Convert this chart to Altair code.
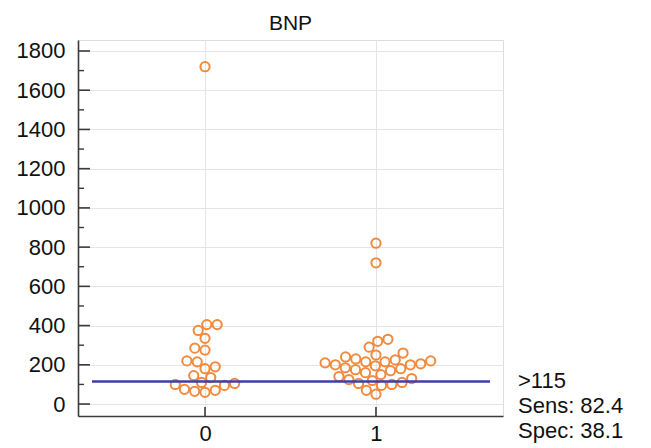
import altair as alt
import pandas as pd
import numpy as np

# ---- data ----
groups = [0, 1]
bnp_group0 = [1720, 405, 405, 375, 335, 285, 275, 220, 215, 190, 180, 145, 135,
              110, 105, 100, 95, 75, 70, 65, 60]
bnp_group1 = [820, 720, 330, 320, 290, 260, 250, 240, 230, 225, 220, 215, 215,
              210, 205, 200, 200, 195, 185, 180, 175, 170, 160, 150, 140, 130,
              125, 120, 110, 105, 100, 95, 70, 50]
y_major = list(range(0, 1801, 200))
y_minor = list(range(100, 1701, 200))
cutoff = [115]
annotation = [">115", "Sens: 82.4", "Spec: 38.1"]

# ---- layout ----
W, H = 425, 376
XDOM = [-0.743, 1.743]
YDOM = [-61, 1856]
px_x = W / (XDOM[1] - XDOM[0])
px_y = H / (YDOM[1] - YDOM[0])
D = 10.4  # min centre distance in px for the swarm
FONT = "Liberation Sans"
FS = 22
ORANGE = "#F08A3E"
BLUE = "#3F3FA3"
AXIS = "#3a3a3a"
GRID = "#e4e4e4"


def swarm(vals):
    order = np.argsort(vals)
    placed = []
    offs = [0.0] * len(vals)
    for i in order:
        y = vals[i] * px_y
        cands = [0.0]
        for xj, yj in placed:
            dy = abs(y - yj)
            if dy < D:
                dx = float(np.sqrt(D * D - dy * dy))
                cands += [xj + dx, xj - dx]
        cands.sort(key=lambda c: (abs(c), c))
        chosen = 0.0
        for c in cands:
            if all((c - xj) ** 2 + (y - yj) ** 2 >= D * D - 1e-6 for xj, yj in placed):
                chosen = c
                break
        placed.append((chosen, y))
        offs[i] = chosen
    return offs


rows = []
for g, vals in zip(groups, [bnp_group0, bnp_group1]):
    for v, o in zip(vals, swarm(vals)):
        rows.append({"group": g, "x": g + o / px_x, "BNP": v})
pts = pd.DataFrame(rows)

xscale = alt.Scale(domain=XDOM, nice=False, zero=False)
yscale = alt.Scale(domain=YDOM, nice=False, zero=False)

xaxis = alt.Axis(values=groups, format="d", grid=True, gridColor=GRID, title=None,
                 ticks=False, tickSize=0, labelPadding=17,
                 labelBaseline="middle", labelFont=FONT, labelFontSize=FS,
                 labelColor="#111", domainColor=AXIS, domainWidth=1.6,
                 labelFlush=False)
yaxis = alt.Axis(values=y_major, format="d", grid=True, gridColor=GRID, ticks=False,
                 title=None, tickSize=0, labelPadding=13, labelBaseline="middle",
                 labelFont=FONT, labelFontSize=FS, labelColor="#111",
                 domainColor=AXIS, domainWidth=1.6, labelFlush=False)

points = alt.Chart(pts).mark_point(
    shape="circle", filled=False, color=ORANGE, strokeWidth=2, size=85, opacity=1
).encode(
    x=alt.X("x:Q", scale=xscale, title=None, axis=xaxis),
    y=alt.Y("BNP:Q", scale=yscale, title=None, axis=yaxis),
)

major = alt.Chart(pd.DataFrame({"v": y_major})).mark_rule(
    color=AXIS, strokeWidth=1.6
).encode(y=alt.Y("v:Q", scale=yscale, title=None, axis=yaxis),
         x=alt.value(0), x2=alt.value(12))

minor = alt.Chart(pd.DataFrame({"v": y_minor})).mark_rule(
    color=AXIS, strokeWidth=1.4
).encode(y=alt.Y("v:Q", scale=yscale, title=None, axis=yaxis),
         x=alt.value(0), x2=alt.value(6))

xt = alt.Chart(pd.DataFrame({"g": groups})).mark_rule(
    color=AXIS, strokeWidth=1.6
).encode(x=alt.X("g:Q", scale=xscale, title=None, axis=xaxis),
         y=alt.value(H), y2=alt.value(H - 9))

line = alt.Chart(pd.DataFrame({"c": cutoff})).mark_rule(
    color=BLUE, strokeWidth=2.4
).encode(y=alt.Y("c:Q", scale=yscale, title=None, axis=yaxis),
         x=alt.value(14), x2=alt.value(412))

ann = pd.DataFrame({"t": annotation, "py": [341, 366, 391]})
texts = alt.Chart(ann).mark_text(
    align="left", baseline="middle", font=FONT, fontSize=FS, color="#111"
).encode(text="t:N", x=alt.value(440), y=alt.Y("py:Q", scale=None))

chart = alt.layer(minor, major, xt, points, line, texts).properties(
    width=W, height=H,
    title=alt.TitleParams("BNP", font=FONT, fontSize=21, fontWeight="normal",
                          color="#111", anchor="middle", offset=6),
    autosize=alt.AutoSizeParams(type="none"),
    padding={"left": 70, "top": 32, "right": 140, "bottom": 31},
).configure_view(stroke="transparent").configure(background="white")

chart.save("out.html", embed_options={"renderer": "svg", "actions": False})
